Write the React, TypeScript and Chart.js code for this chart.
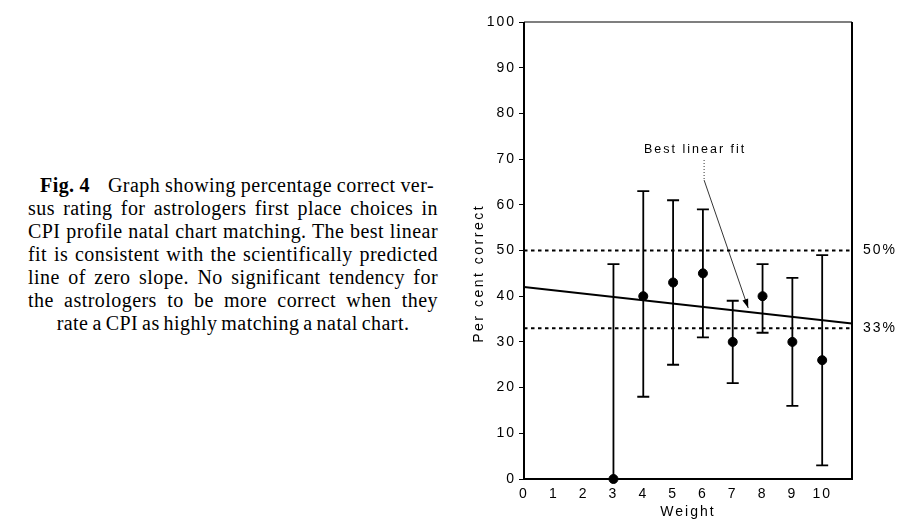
import React, { useEffect, useRef } from "react";
import { Chart, registerables } from "chart.js";

Chart.register(...registerables);

// ---- data ----
const weights = [3, 4, 5, 6, 7, 8, 9, 10];
const percentCorrect = [0, 40, 43, 45, 30, 40, 30, 26];
const errorUpper = [47, 63, 61, 59, 39, 47, 44, 49];
const errorLower = [0, 18, 25, 31, 21, 32, 16, 3];
const fitX = [0, 11];
const fitY = [42, 34];
const referenceLevels = [50, 33];
const referenceLabels = ["50%", "33%"];
const xTickLabels = ["0", "1", "2", "3", "4", "5", "6", "7", "8", "9", "10"];
const yTickLabels = ["0", "10", "20", "30", "40", "50", "60", "70", "80", "90", "100"];
const annotationText = "Best linear fit";
const annotationLabelAt = [5.74, 72];
const annotationStart = [6.04, 69.8];
const annotationBend = [6.04, 65.4];
const annotationTip = [7.52, 37.4];
const xTitle = "Weight";
const yTitle = "Per cent correct";
const yTitleCenter = 45; // value on y axis where the title is centred
const captionBold = "Fig. 4";
const captionLines = [
  "Graph showing percentage correct ver-",
  "sus rating for astrologers first place choices in",
  "CPI profile natal chart matching. The best linear",
  "fit is consistent with the scientifically predicted",
  "line of zero slope. No significant tendency for",
  "the astrologers to be more correct when they",
  "rate a CPI as highly matching a natal chart.",
];

const SANS = "'Liberation Sans', Arial, sans-serif";

const spacingPlugin = {
  id: "spacing",
  beforeDraw(chart: any) {
    chart.ctx.letterSpacing = "2px";
  },
};

const errorBarPlugin = {
  id: "errorBars",
  beforeDatasetsDraw(chart: any) {
    const { ctx } = chart;
    const x = chart.scales.x;
    const y = chart.scales.y;
    ctx.save();
    ctx.strokeStyle = "#000";
    ctx.lineWidth = 1.8;
    weights.forEach((w, i) => {
      const px = x.getPixelForValue(w);
      const top = y.getPixelForValue(errorUpper[i]);
      const bot = y.getPixelForValue(errorLower[i]);
      ctx.beginPath();
      ctx.moveTo(px, top);
      ctx.lineTo(px, bot);
      ctx.moveTo(px - 6, top);
      ctx.lineTo(px + 6, top);
      ctx.moveTo(px - 6, bot);
      ctx.lineTo(px + 6, bot);
      ctx.stroke();
    });
    ctx.restore();
  },
};

const decorPlugin = {
  id: "decor",
  afterDatasetsDraw(chart: any) {
    const { ctx, chartArea } = chart;
    const x = chart.scales.x;
    const y = chart.scales.y;
    ctx.save();
    ctx.strokeStyle = "#000";
    // frame
    ctx.lineWidth = 2;
    ctx.beginPath();
    ctx.moveTo(chartArea.left, chartArea.top);
    ctx.lineTo(chartArea.left, chartArea.bottom);
    ctx.lineTo(chartArea.right, chartArea.bottom);
    ctx.lineTo(chartArea.right, chartArea.top);
    ctx.stroke();
    ctx.lineWidth = 1.2;
    ctx.beginPath();
    ctx.moveTo(chartArea.left, chartArea.top);
    ctx.lineTo(chartArea.right, chartArea.top);
    ctx.stroke();

    // reference labels
    ctx.fillStyle = "#000";
    ctx.font = `14px ${SANS}`;
    ctx.textAlign = "left";
    ctx.textBaseline = "middle";
    referenceLevels.forEach((lv, i) => {
      ctx.fillText(referenceLabels[i], chartArea.right + 11, y.getPixelForValue(lv));
    });

    // y title
    ctx.save();
    ctx.letterSpacing = "2.5px";
    ctx.translate(9, y.getPixelForValue(yTitleCenter));
    ctx.rotate(-Math.PI / 2);
    ctx.textAlign = "center";
    ctx.font = `14px ${SANS}`;
    ctx.fillText(yTitle, 0, 0);
    ctx.restore();

    // annotation
    ctx.font = `12.5px ${SANS}`;
    ctx.textAlign = "center";
    ctx.fillText(
      annotationText,
      x.getPixelForValue(annotationLabelAt[0]),
      y.getPixelForValue(annotationLabelAt[1])
    );
    const sx = x.getPixelForValue(annotationStart[0]);
    const sy = y.getPixelForValue(annotationStart[1]);
    const bx = x.getPixelForValue(annotationBend[0]);
    const by = y.getPixelForValue(annotationBend[1]);
    const tx = x.getPixelForValue(annotationTip[0]);
    const ty = y.getPixelForValue(annotationTip[1]);
    ctx.lineWidth = 0.8;
    ctx.setLineDash([1, 2]);
    ctx.beginPath();
    ctx.moveTo(sx, sy);
    ctx.lineTo(bx, by);
    ctx.stroke();
    ctx.setLineDash([]);
    ctx.beginPath();
    ctx.moveTo(bx, by);
    ctx.lineTo(tx, ty);
    ctx.stroke();
    const ang = Math.atan2(ty - by, tx - bx);
    const len = 9;
    const half = 3;
    const baseX = tx - len * Math.cos(ang);
    const baseY = ty - len * Math.sin(ang);
    ctx.beginPath();
    ctx.moveTo(tx, ty);
    ctx.lineTo(baseX + half * Math.sin(ang), baseY - half * Math.cos(ang));
    ctx.lineTo(baseX - half * Math.sin(ang), baseY + half * Math.cos(ang));
    ctx.closePath();
    ctx.fill();
    ctx.restore();
  },
};

export default function App() {
  const canvasRef = useRef<HTMLCanvasElement | null>(null);

  useEffect(() => {
    const canvas = canvasRef.current;
    if (!canvas) return;
    const refDatasets = referenceLevels.map((lv) => ({
      type: "line" as const,
      data: fitX.map((fx) => ({ x: fx, y: lv })),
      borderColor: "#000",
      borderWidth: 2,
      borderDash: [3.5, 3.5],
      pointRadius: 0,
      showLine: true,
      fill: false,
    }));
    const chart = new Chart(canvas, {
      type: "scatter",
      data: {
        datasets: [
          {
            data: weights.map((w, i) => ({ x: w, y: percentCorrect[i] })),
            backgroundColor: "#000",
            borderColor: "#000",
            pointRadius: 4.5,
            pointHoverRadius: 4.5,
            clip: false,
          } as any,
          {
            type: "line",
            data: fitX.map((fx, i) => ({ x: fx, y: fitY[i] })),
            borderColor: "#000",
            borderWidth: 2,
            pointRadius: 0,
            showLine: true,
            fill: false,
          } as any,
          ...(refDatasets as any[]),
        ],
      },
      options: {
        animation: false,
        responsive: false,
        events: [],
        layout: { padding: { left: 0, top: 22, right: 63, bottom: 0 } },
        plugins: {
          legend: { display: false },
          tooltip: { enabled: false },
          title: { display: false },
        },
        scales: {
          x: {
            type: "linear",
            min: 0,
            max: 11,
            afterFit: (s: any) => {
              s.height = 49;
            },
            afterBuildTicks: (s: any) => {
              s.ticks = xTickLabels.map((_, i) => ({ value: i }));
            },
            ticks: {
              color: "#000",
              font: { family: SANS, size: 14 },
              padding: 7,
              maxRotation: 0,
              autoSkip: false,
              callback: (v: any) => xTickLabels[v] ?? "",
            },
            grid: { display: false, drawTicks: false },
            border: { display: false },
            title: {
              display: true,
              text: xTitle,
              color: "#000",
              font: { family: SANS, size: 14 },
              padding: { top: 0, bottom: 7 },
            },
          },
          y: {
            type: "linear",
            min: 0,
            max: 100,
            afterFit: (s: any) => {
              s.width = 54;
            },
            afterBuildTicks: (s: any) => {
              s.ticks = yTickLabels.map((_, i) => ({ value: i * 10 }));
            },
            ticks: {
              color: "#000",
              font: { family: SANS, size: 14 },
              padding: 3,
              autoSkip: false,
              callback: (v: any) => yTickLabels[Math.round(v / 10)] ?? "",
            },
            grid: {
              display: true,
              drawOnChartArea: false,
              drawTicks: true,
              tickLength: 5,
              color: "#000",
              lineWidth: 1,
            },
            border: { display: false },
            title: { display: false },
          },
        },
      },
      plugins: [spacingPlugin, errorBarPlugin, decorPlugin],
    } as any);
    return () => chart.destroy();
  }, []);

  return (
    <div
      style={{
        position: "absolute",
        left: 0,
        top: 0,
        width: 915,
        height: 528,
        background: "#fff",
        overflow: "hidden",
      }}
    >
      <div
        style={{
          position: "absolute",
          left: 28,
          top: 174,
          width: 410,
          fontFamily: "'Liberation Serif', 'Times New Roman', serif",
          fontSize: 20,
          letterSpacing: "0.45px",
          wordSpacing: "-1.5px",
          lineHeight: "23px",
          color: "#000",
        }}
      >
        {captionLines.map((line, i) => (
          <div
            key={i}
            style={{
              height: 23,
              whiteSpace: "nowrap",
              textAlign: i === captionLines.length - 1 ? "center" : "justify",
              textAlignLast: i === captionLines.length - 1 ? "center" : "justify",
              marginLeft: i === 0 ? 12 : 0,
              marginRight: i === 0 ? 4 : 0,
            } as any}
          >
            {i === 0 ? (
              <>
                <b>{captionBold}</b>
                <span style={{ display: "inline-block", width: 18 }} />
                {line}
              </>
            ) : (
              line
            )}
          </div>
        ))}
      </div>
      <canvas
        ref={canvasRef}
        width={445}
        height={528}
        style={{ position: "absolute", left: 470, top: 0, width: 445, height: 528 }}
      />
    </div>
  );
}
